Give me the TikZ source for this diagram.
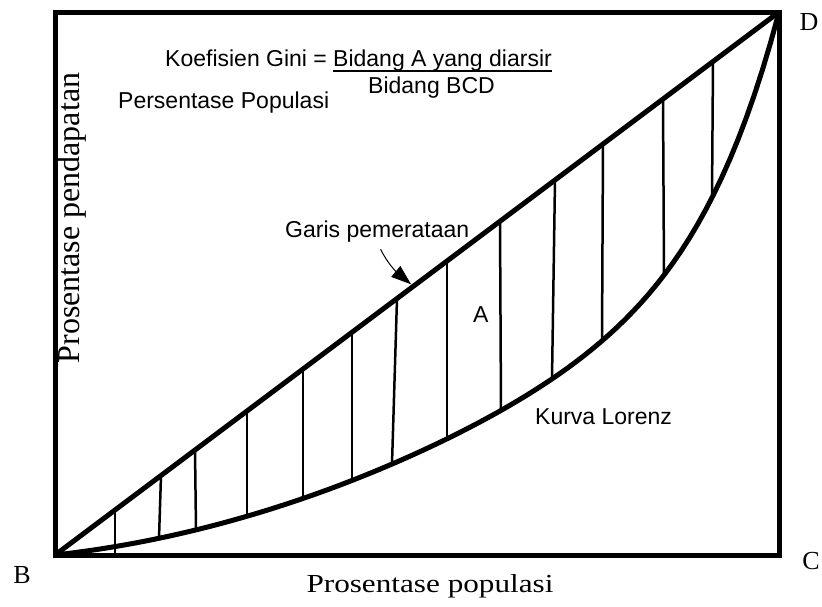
\documentclass[tikz,border=0pt]{standalone}
\usepackage{fontspec}
\setmainfont{Liberation Serif}
\newfontfamily\arialfont{Liberation Sans}
\usetikzlibrary{arrows.meta,calc}

\begin{document}
\begin{tikzpicture}[x=1pt,y=-1pt,>={Triangle[length=20pt,width=14pt]},
        declare function={lorenz(\u)=0.15*\u+0.45*\u^2+0.4*\u^10;},
        thick line/.style={line width=5pt},
        hatch line/.style={line width=2.5pt},
        serif label/.style={font=\fontsize{26}{30}\selectfont,inner sep=0pt},
        sans label/.style={font=\arialfont\fontsize{23}{27}\selectfont,inner sep=0pt}]
        \useasboundingbox (0,0) rectangle (822,606);
        \coordinate (B) at (55,555);
        \coordinate (C) at (779,555);
        \coordinate (D) at (779,12);
        % arsiran bidang A
        \foreach \xt/\xb/\ext in {115/115/7, 161/159/0, 195/196/0, 247/247/0,
                303/303/0, 352/352/0, 397/392/0, 447/447/0, 500/501/0,
                555/552/0, 603/602/0, 663/664/0, 713/712/0}
            \draw[hatch line] (\xt,{555-0.75*(\xt-55)}) -- (\xb,{555-543*lorenz((\xb-55)/724)+\ext});
        % kurva Lorenz
        \draw[thick line,line join=round] plot[domain=0:1,samples=90]
                ({55+724*\x},{555-543*lorenz(\x)});
        \draw[thick line] (B) -- (D);
        \draw[thick line] (B) rectangle (D);
        \node[serif label, anchor=base] (labB) at (22,583) {B};
        \node[serif label, anchor=base] (labC) at (811,569) {C};
        \node[serif label, anchor=base] (labD) at (809,30) {D};
        \node[serif label, anchor=base] (xlabel) at (430,592) {\scalebox{1.2}[1]{Prosentase populasi}};
        \node[font=\fontsize{32}{36}\selectfont, inner sep=0pt, rotate=90, anchor=base] (ylabel) at (79,218) {Prosentase pendapatan};
        \node[sans label, anchor=base west] (gini) at (165,66) {Koefisien Gini =};
        \node[sans label, anchor=base west] (num) at (333,66) {Bidang A yang diarsir};
        \draw[line width=1.8pt] (num.south west) -- (num.south east);
        \node[sans label, anchor=base west] (den) at (368,93) {Bidang BCD};
        \node[sans label, anchor=base west] (persen) at (118,108) {Persentase Populasi};
        \node[sans label, anchor=base west] (garis) at (285,237) {Garis pemerataan};
        \node[sans label, anchor=base west] (bidA) at (473,322) {A};
        \node[sans label, anchor=base west] (kurva) at (535,424) {Kurva Lorenz};
        \coordinate (rata) at ($(B)!0.495!(D)$);
        \draw[->,line width=1pt,shorten <=8pt,shorten >=3pt] (garis.south) to[out=-65,in=140] (rata);
\end{tikzpicture}
\end{document}
